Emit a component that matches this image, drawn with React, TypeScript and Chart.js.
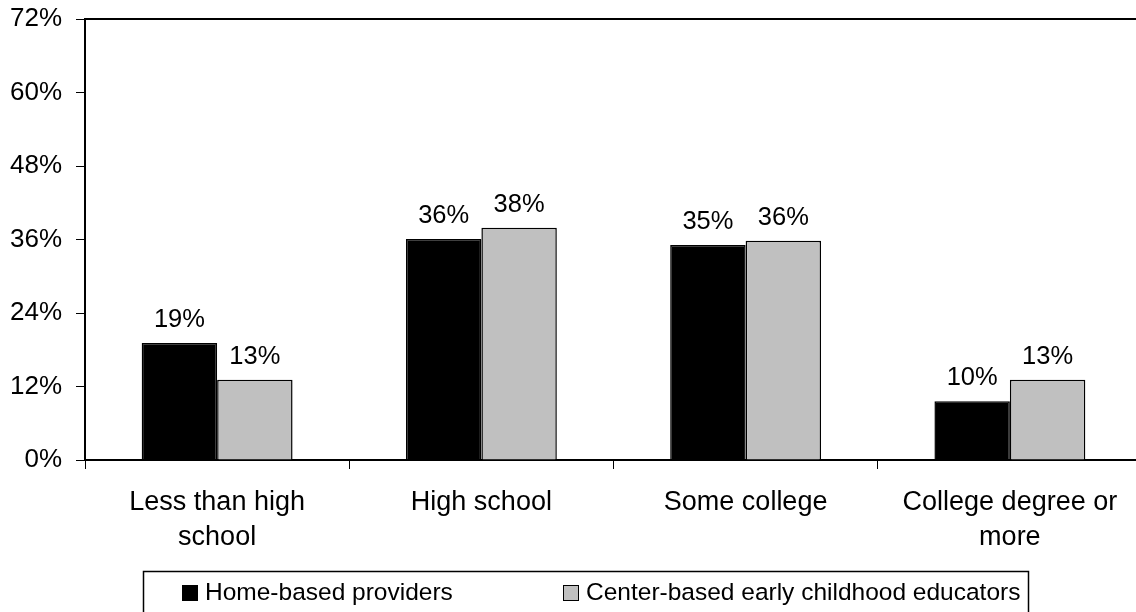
import React, { useEffect, useRef } from "react";
import { Chart, registerables } from "chart.js";

Chart.register(...registerables);

const categories: (string | string[])[] = [
  ["Less than high", "school"],
  "High school",
  "Some college",
  ["College degree or", "more"],
];
const seriesNames = ["Home-based providers", "Center-based early childhood educators"];
const homeBased = [19.1, 36.1, 35.1, 9.6];
const centerBased = [13.1, 37.9, 35.8, 13.1];
const yTicks = [0, 12, 24, 36, 48, 60, 72];

const FONT = "'Liberation Sans', Arial, Helvetica, sans-serif";
const CANVAS_W = 1146;
const CANVAS_H = 630;

const decorPlugin = {
  id: "decor",
  afterDraw(chart: any) {
    const ctx = chart.ctx as CanvasRenderingContext2D;
    const area = chart.chartArea;
    ctx.save();
    // plot frame top + right
    ctx.strokeStyle = "#000";
    ctx.lineWidth = 2;
    ctx.beginPath();
    ctx.moveTo(area.left, area.top);
    ctx.lineTo(area.right, area.top);
    ctx.lineTo(area.right, area.bottom);
    ctx.stroke();

    // value labels
    ctx.fillStyle = "#000";
    ctx.font = `25.5px ${FONT}`;
    ctx.textAlign = "center";
    ctx.textBaseline = "alphabetic";
    chart.data.datasets.forEach((ds: any, di: number) => {
      const meta = chart.getDatasetMeta(di);
      meta.data.forEach((bar: any, i: number) => {
        const v = ds.data[i] as number;
        ctx.fillText(`${Math.round(v)}%`, bar.x, bar.y - 16);
      });
    });

    // legend box
    ctx.lineWidth = 1.5;
    ctx.strokeStyle = "#000";
    ctx.strokeRect(143.5, 571.5, 885, 80);
    const items = [
      { sx: 182, tx: 205 },
      { sx: 563, tx: 586 },
    ];
    ctx.font = `24.5px ${FONT}`;
    ctx.textAlign = "left";
    ctx.textBaseline = "middle";
    chart.data.datasets.forEach((ds: any, di: number) => {
      const it = items[di];
      ctx.fillStyle = ds.backgroundColor;
      ctx.fillRect(it.sx, 585, 16, 16);
      ctx.lineWidth = 1;
      ctx.strokeStyle = "#000";
      ctx.strokeRect(it.sx + 0.5, 585.5, 15, 15);
      ctx.fillStyle = "#000";
      ctx.fillText(ds.label, it.tx, 593);
    });
    ctx.restore();
  },
};

export default function App() {
  const ref = useRef<HTMLCanvasElement | null>(null);
  useEffect(() => {
    if (!ref.current) return;
    const chart = new Chart(ref.current, {
      type: "bar",
      data: {
        labels: categories,
        datasets: [
          {
            label: seriesNames[0],
            data: homeBased,
            backgroundColor: "#000000",
            borderColor: "#000000",
            borderWidth: 1.5,
            categoryPercentage: 0.571,
            barPercentage: 1.0,
          },
          {
            label: seriesNames[1],
            data: centerBased,
            backgroundColor: "#C0C0C0",
            borderColor: "#000000",
            borderWidth: 1.5,
            categoryPercentage: 0.571,
            barPercentage: 1.0,
          },
        ],
      },
      options: {
        responsive: false,
        animation: false,
        devicePixelRatio: 1,
        layout: { padding: { top: 19, left: 0, right: 4, bottom: 0 } },
        plugins: {
          legend: { display: false },
          tooltip: { enabled: false },
        },
        scales: {
          x: {
            grid: {
              offset: true,
              drawOnChartArea: false,
              drawTicks: true,
              tickLength: 9,
              color: "#000",
              lineWidth: 1,
            },
            border: { display: true, color: "#000", width: 2 },
            ticks: {
              color: "#000",
              font: { family: FONT, size: 27, lineHeight: 1.3 },
              padding: 16,
              maxRotation: 0,
              autoSkip: false,
            },
            afterFit: (s: any) => {
              s.height = 170;
              s.paddingLeft = 0;
              s.paddingRight = 0;
            },
          },
          y: {
            min: 0,
            max: 72,
            afterBuildTicks: (s: any) => {
              s.ticks = yTicks.map((v) => ({ value: v }));
            },
            ticks: {
              color: "#000",
              font: { family: FONT, size: 26 },
              padding: 14,
              callback: (v: any) => `${v}%`,
            },
            grid: {
              drawOnChartArea: false,
              drawTicks: true,
              tickLength: 9,
              color: "#000",
              lineWidth: 1,
            },
            border: { display: true, color: "#000", width: 2 },
            afterFit: (s: any) => {
              s.width = 85;
              s.paddingTop = 0;
              s.paddingBottom = 0;
            },
          },
        },
      },
      plugins: [decorPlugin],
    });
    return () => chart.destroy();
  }, []);

  return (
    <div
      style={{
        position: "fixed",
        left: 0,
        top: 0,
        width: 1136,
        height: 612,
        overflow: "hidden",
        background: "#fff",
      }}
    >
      <canvas
        ref={ref}
        width={CANVAS_W}
        height={CANVAS_H}
        style={{ width: CANVAS_W, height: CANVAS_H, display: "block" }}
      />
    </div>
  );
}
